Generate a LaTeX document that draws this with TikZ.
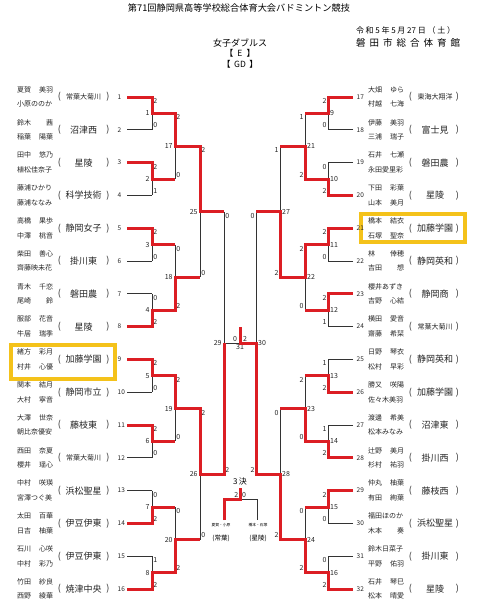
\documentclass[tikz,border=0pt]{standalone}
\usepackage{fontspec}
\setmainfont{Noto Sans CJK JP}
\usetikzlibrary{calc}
\definecolor{wred}{HTML}{DC1E24}
\definecolor{hl}{HTML}{F4C21A}
\tikzset{
  nm/.style={anchor=west,inner sep=0pt,text=black!85,font=\fontsize{7}{7}\selectfont},
  par/.style={inner sep=0pt,text=black!85,font=\fontsize{9}{9}\selectfont},
  sch/.style={inner sep=0pt,text=black!85,font=\fontsize{9}{9}\selectfont},
  schs/.style={inner sep=0pt,text=black!85,font=\fontsize{7}{7}\selectfont},
  tnum/.style={inner sep=0pt,text=black!85,font=\fontsize{6.5}{6.5}\selectfont},
  sco/.style={inner sep=0pt,text=black!85,font=\fontsize{7}{7}\selectfont},
  mno/.style={inner sep=0pt,text=black!85,font=\fontsize{7}{7}\selectfont},
  lose/.style={line width=0.75pt,black!80},
  win/.style={line width=3pt,wred,line join=miter},
  hlbox/.style={line width=3.8pt,hl}
}
\newcommand\lteam[5]{%
  \pgfmathsetmacro\tyy{97+(#1-1)*32.8}
  \node[nm] (na#1) at (17,\tyy-7.3) {\makebox[36pt][l]{#2}};
  \node[nm] (nb#1) at (17,\tyy+7.3) {\makebox[36pt][l]{#3}};
  \node[par] (po#1) at (59.5,\tyy) {(};
  \node[#5] (sc#1) at (83.5,\tyy) {#4};
  \node[par] (pc#1) at (108,\tyy) {)};
  \node[tnum,anchor=west] (tn#1) at (117.5,\tyy) {#1};
  \coordinate (ts#1) at (127,\tyy);
  \coordinate (tv#1) at (152,\tyy);
  \draw[lose] (ts#1) -- (tv#1);
}
\newcommand\rteam[5]{%
  \pgfmathsetmacro\tyy{97+(#1-17)*32.8}
  \node[nm] (na#1) at (368,\tyy-7.3) {\makebox[36pt][l]{#2}};
  \node[nm] (nb#1) at (368,\tyy+7.3) {\makebox[36pt][l]{#3}};
  \node[par] (po#1) at (410.5,\tyy) {(};
  \node[#5] (sc#1) at (435,\tyy) {#4};
  \node[par] (pc#1) at (457.5,\tyy) {)};
  \node[tnum,anchor=west] (tn#1) at (356.5,\tyy) {#1};
  \coordinate (ts#1) at (353,\tyy);
  \coordinate (tv#1) at (328,\tyy);
  \draw[lose] (ts#1) -- (tv#1);
}
\newcommand\mdefL[6]{%
  \coordinate (mp#1) at ($(#2)!0.5!(#3)$);
  \coordinate (mf#1) at ($(mp#1)+(#4,0)$);
  \draw[lose] (#2) -- (#3) (mp#1) -- (mf#1);
  \node[sco,anchor=north west] (sa#1) at ($(#2)+(1.2,1.3)$) {#5};
  \node[sco,anchor=south west] (sb#1) at ($(#3)+(1.2,-1.7)$) {#6};
  \node[mno,anchor=east] (mn#1) at ($(mp#1)+(-2.2,0)$) {#1};
}
\newcommand\mdefR[6]{%
  \coordinate (mp#1) at ($(#2)!0.5!(#3)$);
  \coordinate (mf#1) at ($(mp#1)+(#4,0)$);
  \draw[lose] (#2) -- (#3) (mp#1) -- (mf#1);
  \node[sco,anchor=north east] (sa#1) at ($(#2)+(-1.2,1.3)$) {#5};
  \node[sco,anchor=south east] (sb#1) at ($(#3)+(-1.2,-1.7)$) {#6};
  \node[mno,anchor=west] (mn#1) at ($(mp#1)+(2,0)$) {#1};
}
\begin{document}
\begin{tikzpicture}[x=1pt,y=-1pt]
\fill[white] (0,0) rectangle (479,608);
\useasboundingbox (0,0) rectangle (479,608);

% header
\node[inner sep=0pt,font=\fontsize{9.2}{10}\selectfont] (title) at (239,8) {第71回静岡県高等学校総合体育大会バドミントン競技};
\node[inner sep=0pt,font=\fontsize{8}{9}\selectfont] (date) at (405.5,30) {\makebox[99pt][s]{令\hfill 和\hfill 5\hfill 年\hfill 5\hfill 月\hfill 27\hfill 日\hfill （\hfill 土\hfill ）}};
\node[inner sep=0pt,font=\fontsize{9.5}{10}\selectfont] (venue) at (408,43) {\makebox[104pt][s]{磐\hfill 田\hfill 市\hfill 総\hfill 合\hfill 体\hfill 育\hfill 館}};
\node[inner sep=0pt,font=\fontsize{9}{10}\selectfont] (cat) at (240,43) {女子ダブルス};
\node[inner sep=0pt,font=\fontsize{8.5}{9}\selectfont] (ev) at (240,53.5) {【\hspace{4pt}E\hspace{4pt}】};
\node[inner sep=0pt,font=\fontsize{8.5}{9}\selectfont] (gd) at (240,64) {【\hspace{3.5pt}GD\hspace{3.5pt}】};

% highlight boxes
\draw[hlbox] (11,345) rectangle (115,379);
\draw[hlbox] (361,214) rectangle (465,242);

% left teams
\lteam{1}{夏賀\hfill 美羽}{小原ののか}{常葉大菊川}{schs}
\lteam{2}{鈴木\hfill 茜}{稲葉\hfill 陽葉}{沼津西}{sch}
\lteam{3}{田中\hfill 悠乃}{植松佳奈子}{星陵}{sch}
\lteam{4}{藤浦ひかり}{藤浦ななみ}{科学技術}{sch}
\lteam{5}{高橋\hfill 果歩}{中澤\hfill 桃音}{静岡女子}{sch}
\lteam{6}{柴田\hfill 善心}{齊藤映未花}{掛川東}{sch}
\lteam{7}{青木\hfill 千恋}{尾崎\hfill 鈴}{磐田農}{sch}
\lteam{8}{服部\hfill 花音}{牛居\hfill 瑞季}{星陵}{sch}
\lteam{9}{緒方\hfill 彩月}{村井\hfill 心優}{加藤学園}{sch}
\lteam{10}{関本\hfill 結月}{大村\hfill 寧音}{静岡市立}{sch}
\lteam{11}{大澤\hfill 世奈}{朝比奈優安}{藤枝東}{sch}
\lteam{12}{西田\hfill 奈夏}{櫻井\hfill 瑶心}{常葉大菊川}{schs}
\lteam{13}{中村\hfill 咲瑛}{宮澤つぐ美}{浜松聖星}{sch}
\lteam{14}{太田\hfill 百華}{日吉\hfill 柚葉}{伊豆伊東}{sch}
\lteam{15}{石川\hfill 心咲}{中村\hfill 彩乃}{伊豆伊東}{sch}
\lteam{16}{竹田\hfill 紗良}{西野\hfill 綾華}{焼津中央}{sch}

% right teams
\rteam{17}{大畑\hfill ゆら}{村越\hfill 七海}{東海大翔洋}{schs}
\rteam{18}{伊藤\hfill 美羽}{三浦\hfill 瑞子}{富士見}{sch}
\rteam{19}{石井\hfill 七瀬}{永田愛里彩}{磐田農}{sch}
\rteam{20}{下田\hfill 彩葉}{山本\hfill 美月}{星陵}{sch}
\rteam{21}{橋本\hfill 結衣}{石塚\hfill 聖奈}{加藤学園}{sch}
\rteam{22}{林\hfill 倖穂}{吉田\hfill 想}{静岡英和}{sch}
\rteam{23}{櫻井あずき}{吉野\hfill 心結}{静岡商}{sch}
\rteam{24}{横田\hfill 愛音}{齋藤\hfill 希栞}{常葉大菊川}{schs}
\rteam{25}{日野\hfill 琴衣}{松村\hfill 早彩}{静岡英和}{sch}
\rteam{26}{勝又\hfill 咲陽}{佐々木美羽}{加藤学園}{sch}
\rteam{27}{渡邊\hfill 希美}{松本みなみ}{沼津東}{sch}
\rteam{28}{辻野\hfill 美月}{杉村\hfill 祐羽}{掛川西}{sch}
\rteam{29}{仲丸\hfill 柚葉}{有田\hfill 絢葉}{藤枝西}{sch}
\rteam{30}{福田ほのか}{木本\hfill 奏}{浜松聖星}{sch}
\rteam{31}{鈴木日菜子}{平野\hfill 佑羽}{掛川東}{sch}
\rteam{32}{石井\hfill 琴巳}{松本\hfill 晴愛}{星陵}{sch}

% round 1
\mdefL{1}{tv1}{tv2}{23}{2}{0}
\mdefL{2}{tv3}{tv4}{23}{2}{1}
\mdefL{3}{tv5}{tv6}{23}{2}{0}
\mdefL{4}{tv7}{tv8}{23}{0}{2}
\mdefL{5}{tv9}{tv10}{23}{2}{0}
\mdefL{6}{tv11}{tv12}{23}{2}{0}
\mdefL{7}{tv13}{tv14}{23}{0}{2}
\mdefL{8}{tv15}{tv16}{23}{1}{2}
\mdefR{9}{tv17}{tv18}{-23}{2}{0}
\mdefR{10}{tv19}{tv20}{-23}{0}{2}
\mdefR{11}{tv21}{tv22}{-23}{2}{0}
\mdefR{12}{tv23}{tv24}{-23}{2}{1}
\mdefR{13}{tv25}{tv26}{-23}{1}{2}
\mdefR{14}{tv27}{tv28}{-23}{1}{2}
\mdefR{15}{tv29}{tv30}{-23}{2}{0}
\mdefR{16}{tv31}{tv32}{-23}{0}{2}
% round 2
\mdefL{17}{mf1}{mf2}{25}{2}{0}
\mdefL{18}{mf3}{mf4}{25}{0}{2}
\mdefL{19}{mf5}{mf6}{25}{2}{0}
\mdefL{20}{mf7}{mf8}{25}{0}{2}
\mdefR{21}{mf9}{mf10}{-25}{1}{2}
\mdefR{22}{mf11}{mf12}{-25}{2}{0}
\mdefR{23}{mf13}{mf14}{-25}{2}{0}
\mdefR{24}{mf15}{mf16}{-25}{0}{2}
% round 3
\mdefL{25}{mf17}{mf18}{24}{2}{0}
\mdefL{26}{mf19}{mf20}{24}{2}{0}
\mdefR{27}{mf21}{mf22}{-24}{1}{2}
\mdefR{28}{mf23}{mf24}{-24}{0}{2}
% semifinals
\mdefL{29}{mf25}{mf26}{16}{0}{2}
\mdefR{30}{mf27}{mf28}{-16}{0}{2}

% final
\coordinate (fintop) at ($(mf30)+(0,-16)$);
\node[sco,anchor=south] (f0) at (235,342) {0};
\node[sco,anchor=south] (f2) at (245,342) {2};
\node[mno,anchor=north] (f31) at (240,344.5) {31};

% winners
\draw[win] (ts1)--(tv1)--(mp1)--(mf1)--(mp17)--(mf17)--(mp25)--(mf25);
\draw[win] (ts3)--(tv3)--(mp2)--(mf2);
\draw[win] (ts5)--(tv5)--(mp3)--(mf3);
\draw[win] (ts8)--(tv8)--(mp4)--(mf4)--(mp18)--(mf18);
\draw[win] (ts9)--(tv9)--(mp5)--(mf5)--(mp19)--(mf19)--(mp26)--(mf26)--(mp29);
\draw[win] (ts11)--(tv11)--(mp6)--(mf6);
\draw[win] (ts14)--(tv14)--(mp7)--(mf7);
\draw[win] (ts16)--(tv16)--(mp8)--(mf8)--(mp20)--(mf20);
\draw[win] (ts17)--(tv17)--(mp9)--(mf9);
\draw[win] (ts20)--(tv20)--(mp10)--(mf10)--(mp21)--(mf21);
\draw[win] (ts21)--(tv21)--(mp11)--(mf11)--(mp22)--(mf22)--(mp27)--(mf27);
\draw[win] (ts23)--(tv23)--(mp12)--(mf12);
\draw[win] (ts26)--(tv26)--(mp13)--(mf13);
\draw[win] (ts28)--(tv28)--(mp14)--(mf14)--(mp23)--(mf23);
\draw[win] (ts29)--(tv29)--(mp15)--(mf15);
\draw[win] (ts32)--(tv32)--(mp16)--(mf16)--(mp24)--(mf24)--(mp28)--(mf28)--(mp30)--(mf30)--(fintop);

% third place
\coordinate (q1) at (224,520);
\coordinate (q1t) at (224,499);
\coordinate (qc) at (240,499);
\coordinate (qct) at (240,488);
\coordinate (q2t) at (257,499);
\coordinate (q2) at (257,520);
\draw[lose] (q1)--(q1t)--(q2t)--(q2);
\draw[win] (q1)--(q1t)--(qc)--(qct);
\node[inner sep=0pt,font=\fontsize{8}{8}\selectfont] (third) at (240,481) {3\,決};
\node[sco,anchor=south east] (t2) at (238.5,497.5) {2};
\node[sco,anchor=south west] (t0) at (242,497.5) {0};
\node[inner sep=0pt,font=\fontsize{3.8}{4}\selectfont] (tl1) at (221,525) {夏賀・小原};
\node[inner sep=0pt,font=\fontsize{6.5}{7}\selectfont] (tl2) at (221,538) {(常葉)};
\node[inner sep=0pt,font=\fontsize{3.8}{4}\selectfont] (tr1) at (258,525) {橋本・石塚};
\node[inner sep=0pt,font=\fontsize{6.5}{7}\selectfont] (tr2) at (258,538) {(星陵)};
\end{tikzpicture}
\end{document}
